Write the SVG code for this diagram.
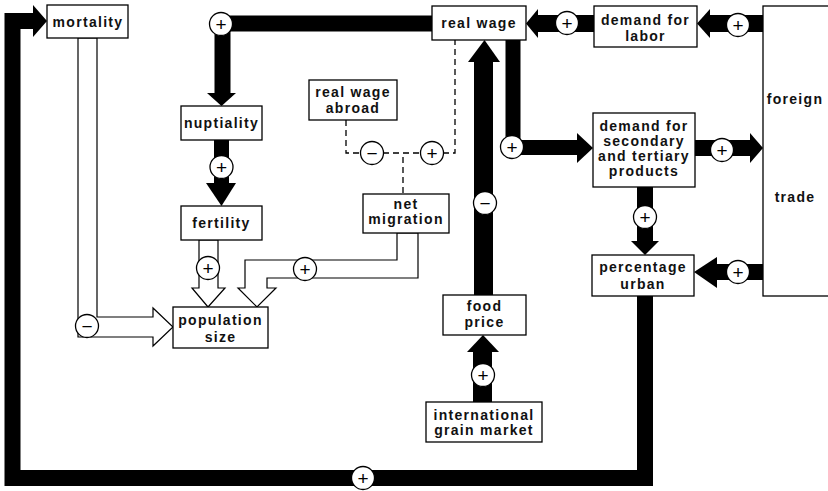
<svg xmlns="http://www.w3.org/2000/svg" width="828" height="491" viewBox="0 0 828 491">
<style>
.bg{fill:#fff}
.box{fill:#fff;stroke:#000;stroke-width:1.3}
.t{font-family:"Liberation Sans",Arial,sans-serif;font-weight:bold;font-size:14px;letter-spacing:1.3px;text-anchor:middle;fill:#111}
.thick{fill:none;stroke:#000;stroke-linejoin:miter}
.head{fill:#000;stroke:none}
.hollow{fill:#fff;stroke:#000;stroke-width:1.2;stroke-linejoin:miter}
.dash{fill:none;stroke:#000;stroke-width:1.3;stroke-dasharray:6 4}
.sg{fill:#fff;stroke:#000;stroke-width:1.3}
.st{font-family:"Liberation Sans",Arial,sans-serif;font-weight:normal;font-size:19px;text-anchor:middle;fill:#000}
</style>
<rect class="bg" x="0" y="0" width="828" height="491"/>
<g id="connectors">
  <!-- percentage urban -> mortality loop -->
  <path class="thick" stroke-width="16" d="M645,296 V478 H12.5 V21 H34"/>
  <polygon class="head" points="33,5 47,21 33,37"/>
  <!-- real wage -> nuptiality -->
  <path class="thick" stroke-width="16" d="M433,23.5 H222.5 V94"/>
  <polygon class="head" points="207,93 236,93 221.5,106"/>
  <!-- nuptiality -> fertility -->
  <path class="thick" stroke-width="15" d="M221.5,140 V184"/>
  <polygon class="head" points="206,183 236,183 221.5,206"/>
  <!-- food price -> real wage -->
  <path class="thick" stroke-width="19" d="M483.5,295 V61"/>
  <polygon class="head" points="468,62 500,62 484.5,40"/>
  <!-- grain market -> food price -->
  <path class="thick" stroke-width="19" d="M482.5,402 V351"/>
  <polygon class="head" points="467,352 499,352 483,335"/>
  <!-- real wage -> demand secondary -->
  <path class="thick" stroke-width="15" d="M513,40 V147.5 H578"/>
  <polygon class="head" points="577,133 593,148 577,163"/>
  <!-- demand secondary -> foreign trade -->
  <path class="thick" stroke-width="16" d="M695,148 H751"/>
  <polygon class="head" points="750,133 763,148 750,163"/>
  <!-- foreign trade -> demand for labor -->
  <path class="thick" stroke-width="17" d="M763,23.5 H709"/>
  <polygon class="head" points="710,9 697,23.5 710,38"/>
  <!-- demand for labor -> real wage -->
  <path class="thick" stroke-width="17" d="M594,23.5 H537"/>
  <polygon class="head" points="538,9 526,23.5 538,38"/>
  <!-- demand secondary -> percentage urban -->
  <path class="thick" stroke-width="16" d="M645,187 V242"/>
  <polygon class="head" points="631,241 659,241 645,255"/>
  <!-- foreign trade -> percentage urban -->
  <path class="thick" stroke-width="16" d="M763,272 H716"/>
  <polygon class="head" points="717,257 694,272 717,288"/>
  <!-- hollow: fertility -> population -->
  <polygon class="hollow" points="199,240 199,288 192,288 208,307 225,288 218,288 218,240"/>
  <!-- hollow: mortality -> population -->
  <polygon class="hollow" points="78,38 78,337 153,337 153,346 173,327 153,308 153,317 97,317 97,38"/>
  <!-- hollow: net migration -> population -->
  <polygon class="hollow" points="397,233 397,260 245,260 245,288 238,288 257,307 276,288 267,288 267,278 418,278 418,233"/>
  <!-- dashed -->
  <path class="dash" d="M346,120 V153 H455 V40"/>
  <path class="dash" d="M403,157 V194"/>
  <!-- signs -->
  <circle class="sg" cx="363" cy="478" r="11.5"/><text class="st" x="363" y="484.5">+</text>
  <circle class="sg" cx="221" cy="24" r="11.5"/><text class="st" x="221" y="30.5">+</text>
  <circle class="sg" cx="221.5" cy="167" r="11.5"/><text class="st" x="221.5" y="173.5">+</text>
  <circle class="sg" cx="485" cy="203" r="11.5"/><text class="st" x="485" y="209.5">−</text>
  <circle class="sg" cx="483" cy="375" r="11.5"/><text class="st" x="483" y="381.5">+</text>
  <circle class="sg" cx="512" cy="147" r="11.5"/><text class="st" x="512" y="153.5">+</text>
  <circle class="sg" cx="722" cy="150" r="11.5"/><text class="st" x="722" y="156.5">+</text>
  <circle class="sg" cx="738" cy="25" r="11.5"/><text class="st" x="738" y="31.5">+</text>
  <circle class="sg" cx="567" cy="23" r="11.5"/><text class="st" x="567" y="29.5">+</text>
  <circle class="sg" cx="645" cy="217" r="11.5"/><text class="st" x="645" y="223.5">+</text>
  <circle class="sg" cx="738" cy="272" r="11.5"/><text class="st" x="738" y="278.5">+</text>
  <circle class="sg" cx="208" cy="268" r="11.5"/><text class="st" x="208" y="274.5">+</text>
  <circle class="sg" cx="87" cy="326" r="11.5"/><text class="st" x="87" y="332.5">−</text>
  <circle class="sg" cx="305" cy="269" r="11.5"/><text class="st" x="305" y="275.5">+</text>
  <circle class="sg" cx="372" cy="153" r="11.5"/><text class="st" x="372" y="159.5">−</text>
  <circle class="sg" cx="432" cy="153" r="11.5"/><text class="st" x="432" y="159.5">+</text>
</g>
<g id="mortality"><rect class="box" x="47" y="5" width="81" height="33"/><text class="t" x="88" y="27">mortality</text></g>
<g id="real-wage"><rect class="box" x="432" y="6" width="94" height="34"/><text class="t" x="479" y="28">real wage</text></g>
<g id="demand-for-labor"><rect class="box" x="594" y="6" width="103" height="41"/><text class="t" x="645.5" y="25">demand for</text><text class="t" x="645.5" y="41">labor</text></g>
<g id="foreign-trade"><rect class="box" x="763" y="6" width="72" height="290"/><text class="t" x="795" y="104">foreign</text><text class="t" x="795" y="202">trade</text></g>
<g id="nuptiality"><rect class="box" x="181" y="106" width="81" height="34"/><text class="t" x="221.5" y="128">nuptiality</text></g>
<g id="real-wage-abroad"><rect class="box" x="309" y="80" width="88" height="40"/><text class="t" x="353" y="97">real wage</text><text class="t" x="353" y="113">abroad</text></g>
<g id="demand-secondary"><rect class="box" x="593" y="113" width="102" height="74"/><text class="t" x="644" y="131">demand for</text><text class="t" x="644" y="146">secondary</text><text class="t" x="644" y="161">and tertiary</text><text class="t" x="644" y="176">products</text></g>
<g id="fertility"><rect class="box" x="181" y="206" width="81" height="34"/><text class="t" x="221.5" y="228">fertility</text></g>
<g id="net-migration"><rect class="box" x="363" y="194" width="86" height="39"/><text class="t" x="406" y="209">net</text><text class="t" x="406" y="224">migration</text></g>
<g id="population-size"><rect class="box" x="173" y="307" width="95" height="41"/><text class="t" x="220.5" y="325">population</text><text class="t" x="220.5" y="342">size</text></g>
<g id="percentage-urban"><rect class="box" x="592" y="255" width="102" height="41"/><text class="t" x="643" y="272">percentage</text><text class="t" x="643" y="289">urban</text></g>
<g id="food-price"><rect class="box" x="443" y="295" width="83" height="40"/><text class="t" x="484.5" y="311">food</text><text class="t" x="484.5" y="327">price</text></g>
<g id="international-grain-market"><rect class="box" x="426" y="402" width="116" height="40"/><text class="t" x="484" y="420">international</text><text class="t" x="484" y="435">grain market</text></g>
</svg>
